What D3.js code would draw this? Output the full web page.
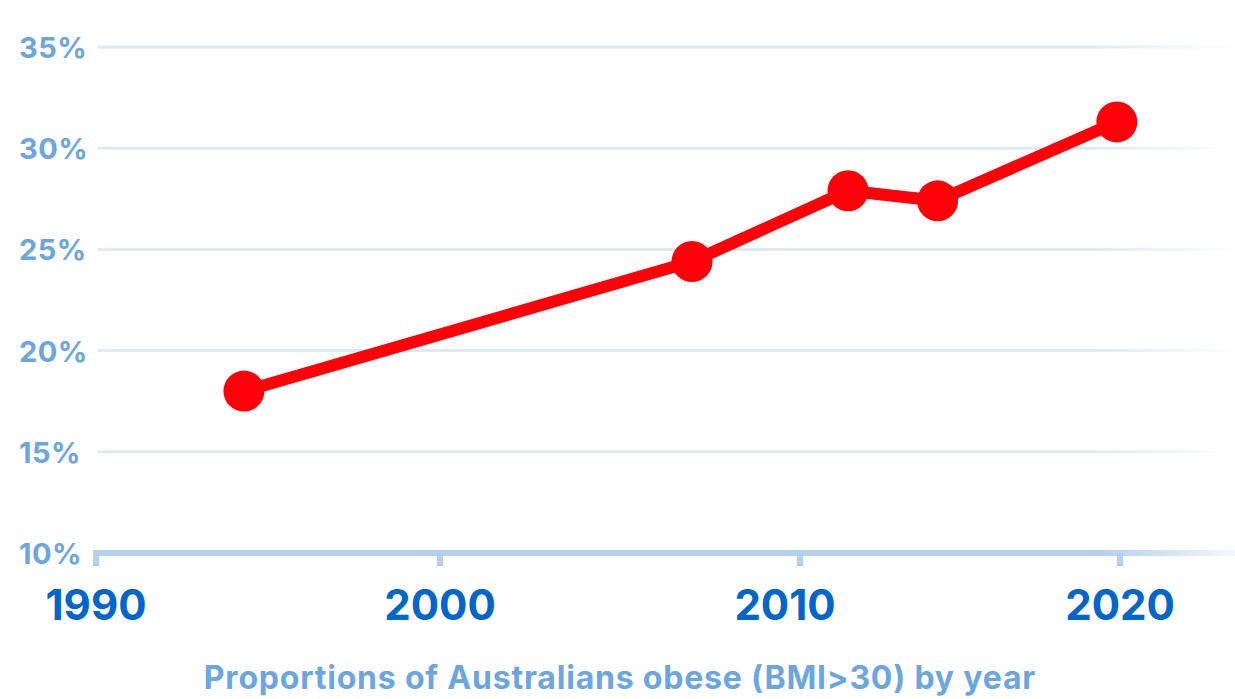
<!DOCTYPE html>
<html>
<head>
<meta charset="utf-8">
<script src="https://cdn.jsdelivr.net/npm/d3@7"></script>
<style>
  body { margin: 0; background: #fff; }
  svg { display: block; font-family: Inter, "Open Sans", sans-serif; font-weight: 700; }
</style>
</head>
<body>
<div id="chart"></div>
<script>
const width = 1235;
const height = 699;

// Data
const years = [1994.3, 2007.0, 2011.5, 2014.3, 2019.9];
const obese = [18.0, 24.4, 27.9, 27.4, 31.3];
const yearTicks = [1990, 2000, 2010, 2020];
const pctTicks = [10, 15, 20, 25, 30, 35];
const title = 'Proportions of Australians obese (BMI>30) by year';

const data = years.map((y, i) => ({ year: y, value: obese[i] }));

// Scales (tick spacing in the original is uneven)
const x = d3.scaleLinear()
    .domain(yearTicks)
    .range([96, 440, 800, 1120]);

const y = d3.scaleLinear()
    .domain([10, 35])
    .range([553, 47]);

const svg = d3.select('#chart')
    .append('svg')
    .attr('width', width)
    .attr('height', height);

// Fade to the right
const defs = svg.append('defs');
function fade(id, color, x1, x2) {
  const g = defs.append('linearGradient')
      .attr('id', id)
      .attr('gradientUnits', 'userSpaceOnUse')
      .attr('x1', x1).attr('x2', x2)
      .attr('y1', 0).attr('y2', 0);
  g.append('stop').attr('offset', 0).attr('stop-color', color).attr('stop-opacity', 1);
  g.append('stop').attr('offset', 1).attr('stop-color', color).attr('stop-opacity', 0);
}
fade('gridFade', '#dde9f6', 1090, 1240);
fade('axisFade', '#b3d0ee', 1100, 1260);

// Grid lines
svg.append('g')
  .selectAll('line')
  .data(pctTicks.filter(d => d > 10))
  .enter().append('line')
    .attr('x1', 98)
    .attr('x2', width)
    .attr('y1', d => y(d))
    .attr('y2', d => y(d))
    .attr('stroke', 'url(#gridFade)')
    .attr('stroke-width', 3);

// Y labels
svg.append('g')
  .selectAll('text')
  .data(pctTicks)
  .enter().append('text')
    .attr('x', 19)
    .attr('y', d => y(d) + 11)
    .attr('fill', '#6ba6e1')
    .attr('font-size', 29)
    .attr('letter-spacing', 0.5)
    .text(d => d + '%');

// X axis
const xAxis = svg.append('g');
xAxis.append('line')
    .attr('x1', 93)
    .attr('x2', width)
    .attr('y1', 553)
    .attr('y2', 553)
    .attr('stroke', 'url(#axisFade)')
    .attr('stroke-width', 6);

xAxis.selectAll('.tick')
  .data(yearTicks)
  .enter().append('line')
    .attr('class', 'tick')
    .attr('x1', d => x(d))
    .attr('x2', d => x(d))
    .attr('y1', 553)
    .attr('y2', 566)
    .attr('stroke', '#b3d0ee')
    .attr('stroke-width', 6);

xAxis.selectAll('.label')
  .data(yearTicks)
  .enter().append('text')
    .attr('class', 'label')
    .attr('x', d => x(d) + (d === 2010 ? -15 : 0))
    .attr('y', 620)
    .attr('text-anchor', 'middle')
    .attr('fill', '#0066cc')
    .attr('font-size', 42)
    .text(d => d);

// Line
const line = d3.line()
    .x(d => x(d.year))
    .y(d => y(d.value));

svg.append('path')
    .datum(data)
    .attr('d', line)
    .attr('fill', 'none')
    .attr('stroke', '#ff0009')
    .attr('stroke-width', 12)
    .attr('stroke-linejoin', 'round');

svg.append('g')
  .selectAll('circle')
  .data(data)
  .enter().append('circle')
    .attr('cx', d => x(d.year))
    .attr('cy', d => y(d.value))
    .attr('r', 20.5)
    .attr('fill', '#ff0009');

// Title
svg.append('text')
    .attr('x', 620)
    .attr('y', 689)
    .attr('text-anchor', 'middle')
    .attr('fill', '#6ba6e1')
    .attr('font-size', 32)
    .attr('letter-spacing', 0.8)
    .text(title);
</script>
</body>
</html>
